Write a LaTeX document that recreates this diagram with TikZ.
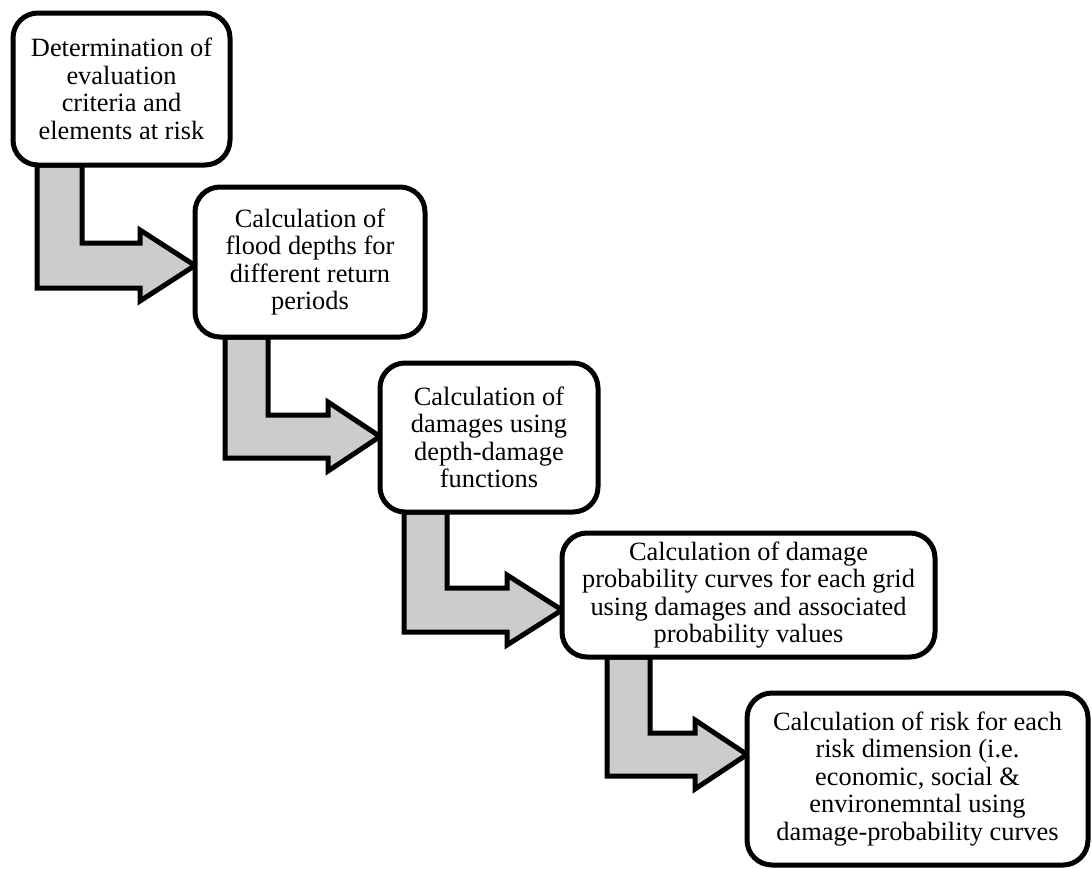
\documentclass[tikz,border=0pt]{standalone}
\usepackage{fontspec}
\setmainfont{Liberation Serif}
\usetikzlibrary{calc}
\pgfdeclarelayer{background}
\pgfsetlayers{background,main}
\tikzset{
  stepbox/.style={draw=black, line width=5pt, rounded corners=25pt, fill=white,
    align=center, inner sep=0pt, outer sep=0pt,
    font=\fontsize{26.4}{27.5}\selectfont},
  barrow/.style={draw=black, line width=5pt, fill=black!20, line join=miter}
}
% #1 from node, #2 to node, #3 shaft left x, #4 shaft right x,
% #5 bar top y, #6 bar bottom y, #7 head base x (y measured downwards)
\newcommand\blockarrow[7]{%
  \draw[barrow] let \p1=(#1.south), \p2=(#2.west) in
    (#3,\y1) -- (#4,\y1) -- (#4,-#5) -- (#7,-#5) -- (#7,{-(#5)+13})
    -- (\x2,{-((#5)+(#6))/2}) -- (#7,{-(#6)-13}) -- (#7,-#6) -- (#3,-#6) -- cycle;}
\begin{document}
\begin{tikzpicture}[x=1pt,y=1pt]
\useasboundingbox (0,0) rectangle (1092,-868);
\node[stepbox, minimum width=217pt, minimum height=152pt] (b1) at (121.5,-89)
  {Determination of\\evaluation\\criteria and\\elements at risk};
\node[stepbox, minimum width=230pt, minimum height=150pt] (b2) at (310,-262)
  {Calculation of\\flood depths for\\different return\\periods};
\node[stepbox, minimum width=218pt, minimum height=149pt] (b3) at (489,-437.5)
  {Calculation of\\damages using\\depth-damage\\functions};
\node[stepbox, minimum width=373pt, minimum height=124pt] (b4) at (748.5,-595)
  {Calculation of damage\\probability curves for each grid\\using damages and associated\\probability values};
\node[stepbox, minimum width=341pt, minimum height=172pt] (b5) at (917.5,-779)
  {Calculation of risk for each\\risk dimension (i.e.\\economic, social \&\\environemntal using\\damage-probability curves};
\begin{pgfonlayer}{background}
\blockarrow{b1}{b2}{37}{82}{243}{288}{140}
\blockarrow{b2}{b3}{225}{268}{415}{458}{328}
\blockarrow{b3}{b4}{404}{447}{588}{632}{507}
\blockarrow{b4}{b5}{607}{650}{733}{776}{695}
\end{pgfonlayer}
\end{tikzpicture}
\end{document}
